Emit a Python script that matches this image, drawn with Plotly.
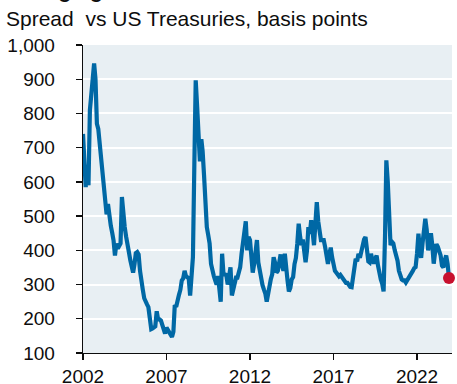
import pandas as pd
import plotly.graph_objects as go

# Monthly spread readings, basis points (Jan..Dec of each year)
spread_2002 = [740, 630, 585, 650, 590, 810, 860, 925, 946, 900, 770, 755]
spread_2003 = [712, 690, 658, 598, 556, 505, 535, 495, 472, 452, 428, 385]
spread_2004 = [420, 405, 415, 420, 556, 490, 468, 440, 422, 395, 371, 345]
spread_2005 = [335, 360, 392, 395, 388, 340, 305, 285, 260, 246, 242, 234]
spread_2006 = [210, 170, 172, 175, 178, 222, 198, 198, 195, 182, 166, 157]
spread_2007 = [174, 166, 162, 154, 147, 162, 240, 235, 260, 270, 285, 312]
spread_2008 = [318, 340, 325, 322, 318, 268, 330, 380, 650, 897, 820, 760]
spread_2009 = [660, 725, 690, 620, 520, 468, 445, 420, 360, 338, 325, 312]
spread_2010 = [300, 325, 290, 250, 390, 330, 330, 328, 300, 330, 350, 268]
spread_2011 = [288, 315, 320, 320, 335, 351, 390, 420, 460, 485, 400, 439]
spread_2012 = [430, 351, 335, 360, 410, 430, 365, 340, 305, 298, 285, 274]
spread_2013 = [250, 278, 302, 316, 330, 380, 365, 335, 340, 378, 388, 358]
spread_2014 = [340, 390, 335, 312, 280, 290, 315, 322, 360, 378, 420, 478]
spread_2015 = [440, 415, 432, 405, 365, 400, 468, 448, 488, 455, 415, 478]
spread_2016 = [541, 485, 450, 430, 430, 430, 410, 378, 360, 390, 408, 380]
spread_2017 = [351, 340, 335, 330, 324, 328, 321, 315, 310, 305, 305, 298]
spread_2018 = [293, 292, 318, 362, 375, 368, 390, 378, 400, 420, 432, 439]
spread_2019 = [400, 368, 365, 390, 372, 362, 375, 385, 355, 325, 315, 303]
spread_2020 = [280, 440, 663, 600, 500, 415, 425, 420, 400, 388, 370, 340]
spread_2021 = [322, 315, 312, 312, 306, 312, 318, 324, 330, 340, 348, 351]
spread_2022 = [390, 449, 405, 378, 420, 475, 492, 460, 400, 420, 450, 415]
spread_2023 = [361, 395, 418, 410, 396, 385, 355, 350, 372, 385, 360, 319]

spread = (spread_2002 + spread_2003 + spread_2004 + spread_2005 + spread_2006
          + spread_2007 + spread_2008 + spread_2009 + spread_2010 + spread_2011
          + spread_2012 + spread_2013 + spread_2014 + spread_2015 + spread_2016
          + spread_2017 + spread_2018 + spread_2019 + spread_2020 + spread_2021
          + spread_2022 + spread_2023)
dates = pd.date_range("2002-01-01", periods=len(spread), freq="MS")

x_tick_labels = ["2002", "2007", "2012", "2017", "2022"]
y_tick_values = [100, 200, 300, 400, 500, 600, 700, 800, 900, 1000]
y_tick_labels = ["100", "200", "300", "400", "500", "600", "700", "800", "900", "1,000"]

title_text = "Emerging-market bonds"
subtitle_text = "Spread  vs US Treasuries, basis points"

FONT = "Liberation Sans, Arial, sans-serif"
BLUE = "#0068a5"
RED = "#c8102e"

L, R, T, B = 83, 5, 45, 31
PW, PH = 457 - L - R, 384 - T - B

fig = go.Figure()
fig.add_trace(go.Scatter(
    x=dates, y=spread, mode="lines",
    line=dict(color=BLUE, width=4.2),
    hoverinfo="skip", showlegend=False,
))
fig.add_trace(go.Scatter(
    x=[dates[-1]], y=[spread[-1]], mode="markers",
    marker=dict(color=RED, size=12),
    cliponaxis=False, hoverinfo="skip", showlegend=False,
))

fig.update_layout(
    width=457, height=384,
    margin=dict(l=L, r=R, t=T, b=B, autoexpand=False),
    paper_bgcolor="white",
    plot_bgcolor="#e8eff3",
    font=dict(family=FONT, size=19, color="#0d0d0d"),
    hovermode=False,
    xaxis=dict(
        type="date", automargin=False,
        range=["2002-01-01", "2024-02-05"],
        tickvals=[f"{y}-01-01" for y in x_tick_labels],
        ticktext=x_tick_labels,
        showgrid=False, zeroline=False,
        showline=True, linecolor="#0d0d0d", linewidth=1.3,
        ticks="outside", ticklen=6, tickwidth=1.3, tickcolor="#0d0d0d",
        tickfont=dict(size=19),
        ticklabelstandoff=0,
    ),
    yaxis=dict(
        automargin=False,
        range=[100, 1000],
        tickvals=y_tick_values, ticktext=y_tick_labels,
        showgrid=True, gridcolor="white", gridwidth=2,
        zeroline=False,
        showline=True, linecolor="#0d0d0d", linewidth=1.3,
        ticks="outside", ticklen=6, tickwidth=1.3, tickcolor="#0d0d0d",
        tickfont=dict(size=19),
        ticklabelstandoff=17,
    ),
    annotations=[
        dict(text=title_text, xref="paper", yref="paper",
             x=(-L + 4) / PW, y=(PH + T + 9.5) / PH, xanchor="left", yanchor="middle",
             showarrow=False, font=dict(family=FONT, size=21, color="#0d0d0d", weight="bold")),
        dict(text=subtitle_text, xref="paper", yref="paper",
             x=(-L + 4) / PW, y=(PH + T - 18.5) / PH, xanchor="left", yanchor="middle",
             showarrow=False, font=dict(family=FONT, size=21, color="#0d0d0d")),
    ],
)

fig.write_html("out.html", config={"displayModeBar": False, "staticPlot": True},
               post_script="document.body.style.margin='0px';")
